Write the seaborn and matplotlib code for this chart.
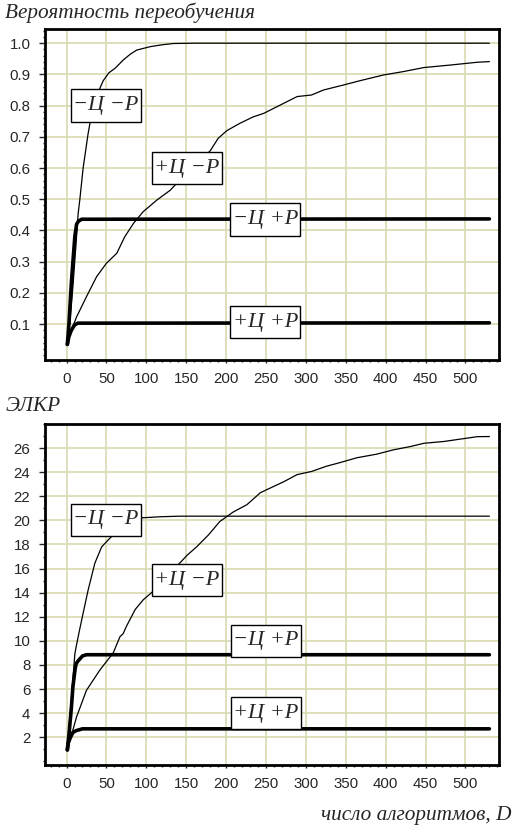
import pandas as pd
import matplotlib
matplotlib.use('Agg')
import matplotlib.pyplot as plt
import seaborn as sns
from matplotlib.ticker import MultipleLocator
from matplotlib.path import Path

# values: number of algorithms D and the curve value
# top panel: probability of overfitting
top_mm_d = [1, 4, 8, 12, 14.6, 16.7, 20.8, 27, 33, 40, 46, 53, 61, 71, 80, 88, 105, 120, 134, 160, 530]
top_mm_v = [0.035, 0.10, 0.22, 0.36, 0.455, 0.50, 0.60, 0.71, 0.795, 0.845, 0.88, 0.905, 0.92, 0.946, 0.965,
            0.978, 0.989, 0.995, 0.999, 1.0, 1.0]

top_pm_d = [1, 6, 12.6, 25, 37.7, 50, 63, 73, 84, 96, 113, 130, 134, 155, 180, 190, 201, 217, 234, 247,
            268, 289, 307, 322, 347, 368, 397, 422, 448, 481, 515, 530]
top_pm_v = [0.035, 0.08, 0.123, 0.188, 0.252, 0.295, 0.327, 0.38, 0.423, 0.46, 0.497, 0.529, 0.54, 0.595,
            0.655, 0.695, 0.72, 0.743, 0.764, 0.775, 0.802, 0.829, 0.834, 0.85, 0.866, 0.88, 0.898, 0.909,
            0.922, 0.93, 0.939, 0.941]

top_mp_d = [1, 3, 6, 8, 10.4, 12.6, 15, 19, 530]
top_mp_v = [0.035, 0.10, 0.23, 0.30, 0.38, 0.42, 0.43, 0.436, 0.437]

top_pp_d = [1, 3, 6, 10, 14, 530]
top_pp_v = [0.035, 0.06, 0.08, 0.097, 0.103, 0.104]

# bottom panel: ЭЛКР
bot_mm_d = [1, 6.3, 10.4, 12, 16, 20.8, 27, 35.5, 44, 54, 65, 78, 91, 117, 142, 530]
bot_mm_v = [0.95, 5.4, 8.9, 9.5, 10.8, 12.3, 14.2, 16.45, 17.8, 18.5, 19.2, 19.8, 20.2, 20.3, 20.35, 20.35]

bot_pm_d = [1, 12.6, 25, 42, 58.5, 67, 71, 75, 86, 96, 110, 125, 144, 151, 163, 178, 192, 209, 226, 243,
            259, 272, 289, 307, 326, 343, 364, 389, 410, 431, 448, 473, 494, 515, 530]
bot_pm_v = [0.95, 3.7, 5.9, 7.6, 9.0, 10.35, 10.6, 11.2, 12.6, 13.4, 14.2, 15.3, 16.6, 17.1, 17.8, 18.8,
            19.9, 20.7, 21.3, 22.3, 22.8, 23.2, 23.8, 24.06, 24.5, 24.8, 25.2, 25.5, 25.86, 26.13, 26.4,
            26.55, 26.75, 26.95, 26.96]

bot_mp_d = [1, 3, 6, 8, 10.6, 12, 14, 20, 25, 530]
bot_mp_v = [0.95, 2.2, 4.4, 6.2, 7.6, 8.1, 8.3, 8.75, 8.85, 8.85]

bot_pp_d = [1, 2, 5, 8, 12, 20, 530]
bot_pp_v = [0.95, 1.5, 2.0, 2.4, 2.55, 2.7, 2.7]

labels = ['−Ц −Р', '+Ц −Р', '−Ц +Р', '+Ц +Р']
top_label_xy = [(49, 0.80), (151, 0.60), (249, 0.435), (249, 0.106)]
bot_label_xy = [(49, 20.05), (151, 15.04), (250, 10.0), (250, 3.99)]

sns.set_style('white')
plt.rcParams['font.family'] = ['Liberation Sans', 'DejaVu Sans']

grid_col = '#d9d9b2'
serif = ['Liberation Serif', 'DejaVu Serif']


def label_box(x0, y0, width, height, mutation_size):
    # rectangle with more room above/below the text than on the sides
    px, py = 0.1 * mutation_size, 0.3 * mutation_size
    x0, y0 = x0 - px, y0 - py
    x1, y1 = x0 + width + 2 * px, y0 + height + 2 * py
    return Path([(x0, y0), (x1, y0), (x1, y1), (x0, y1), (x0, y0)], closed=True)


fig = plt.figure(figsize=(5.16, 8.27), dpi=100)
ax1 = fig.add_axes([0.0872, 0.5647, 0.8798, 0.4008])
ax2 = fig.add_axes([0.0872, 0.075, 0.8798, 0.4123])


def draw(ax, curves, label_xy):
    for (d, v), lw in curves:
        df = pd.DataFrame({'D': d, 'v': v})
        sns.lineplot(data=df, x='D', y='v', ax=ax, color='black', lw=lw, estimator=None, sort=False)
    for txt, (x, y) in zip(labels, label_xy):
        ax.text(x, y, txt, ha='center', va='center', fontsize=16, style='italic', family=serif,
                bbox=dict(boxstyle=label_box, fc='white', ec='black', lw=1.0), zorder=5)
    ax.set_xlim(-27, 542)
    ax.xaxis.set_major_locator(MultipleLocator(50))
    ax.xaxis.set_minor_locator(MultipleLocator(10))
    ax.grid(True, which='major', color=grid_col, lw=1.2)
    ax.set_axisbelow(True)
    for s in ax.spines.values():
        s.set_linewidth(2.0)
        s.set_color('black')
    ax.tick_params(which='major', direction='out', width=1, labelsize=10.8, pad=6.5,
                   bottom=True, left=True)
    ax.tick_params(axis='x', which='major', length=2)
    ax.tick_params(axis='y', which='major', length=4)
    ax.tick_params(which='minor', direction='out', length=1.5, width=1, bottom=True, left=True)
    ax.set_xlabel('')
    ax.set_ylabel('')


draw(ax1, [((top_mm_d, top_mm_v), 0.9), ((top_pm_d, top_pm_v), 0.9),
           ((top_mp_d, top_mp_v), 2.6), ((top_pp_d, top_pp_v), 2.6)], top_label_xy)
ax1.set_ylim(-0.015, 1.047)
ax1.set_yticks([0.1, 0.2, 0.3, 0.4, 0.5, 0.6, 0.7, 0.8, 0.9, 1.0])
ax1.set_yticklabels(['0.1', '0.2', '0.3', '0.4', '0.5', '0.6', '0.7', '0.8', '0.9', '1.0'])
ax1.yaxis.set_minor_locator(MultipleLocator(0.02))

draw(ax2, [((bot_mm_d, bot_mm_v), 0.9), ((bot_pm_d, bot_pm_v), 0.9),
           ((bot_mp_d, bot_mp_v), 2.6), ((bot_pp_d, bot_pp_v), 2.6)], bot_label_xy)
ax2.set_ylim(-0.3, 28.0)
ax2.set_yticks(list(range(2, 27, 2)))
ax2.yaxis.set_minor_locator(MultipleLocator(1))

fig.text(0.01, 0.997, 'Вероятность переобучения', ha='left', va='top', fontsize=15.3,
         style='italic', family=serif)
fig.text(0.01, 0.52, 'ЭЛКР', ha='left', va='top', fontsize=15.3, style='italic', family=serif)
fig.text(0.992, 0.0085, 'число алгоритмов, D', ha='right', va='baseline', fontsize=15.3,
         style='italic', family=serif)

fig.savefig('out.png', dpi=100)
